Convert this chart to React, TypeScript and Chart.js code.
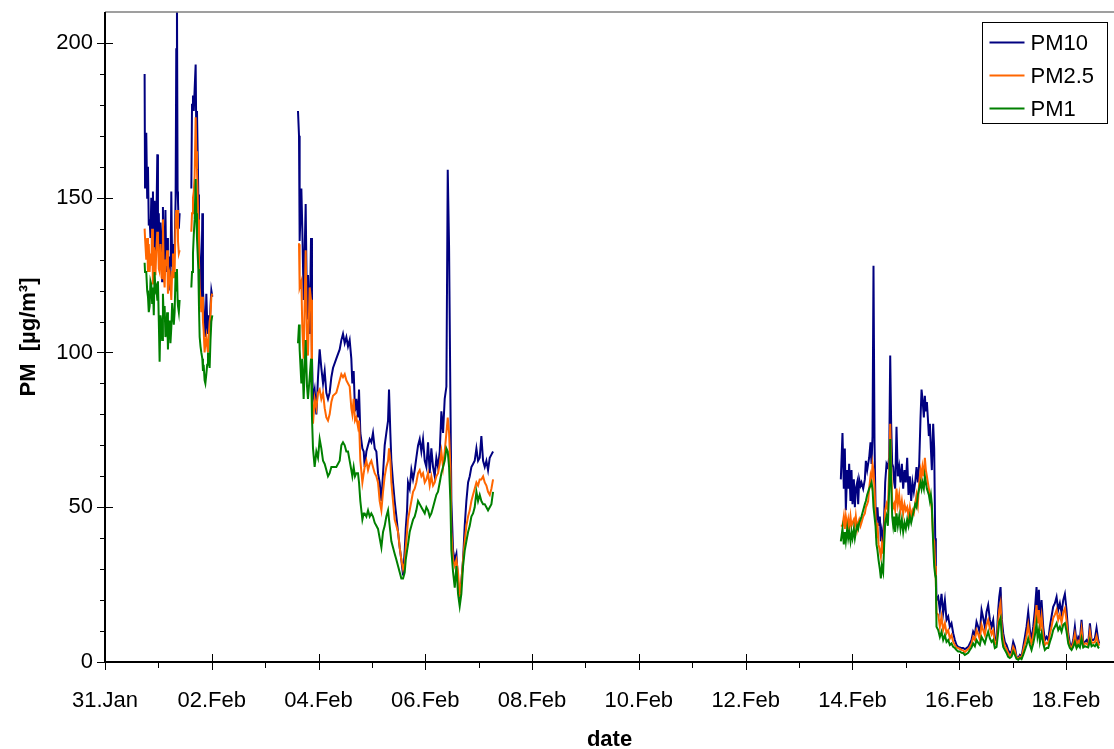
import { useEffect, useRef } from 'react';
import { Chart, registerables } from 'chart.js';

Chart.register(...registerables);

// ---------- axis ticks (days after 31.Jan 00:00) ----------
const xTickDays = [0, 2, 4, 6, 8, 10, 12, 14, 16, 18];
const xTickLabels = ['31.Jan', '02.Feb', '04.Feb', '06.Feb', '08.Feb', '10.Feb', '12.Feb', '14.Feb', '16.Feb', '18.Feb'];
const xMinorDays = [1, 3, 5, 7, 9, 11, 13, 15, 17];
const yTickValues = [0, 50, 100, 150, 200];
const yMinorValues = [10, 20, 30, 40, 60, 70, 80, 90, 110, 120, 130, 140, 160, 170, 180, 190];

const seriesLabels = ['PM10', 'PM2.5', 'PM1'];
const seriesColors = ['#000080', '#FF6600', '#008000'];

// ---------- segment 1a ----------
const seg1aDays = [
  0.742, 0.750, 0.773, 0.790, 0.805, 0.820, 0.836, 0.852, 0.867, 0.883,
  0.898, 0.914, 0.929, 0.945, 0.961, 0.980, 0.992, 1.008, 1.023, 1.039,
  1.054, 1.070, 1.085, 1.101, 1.117, 1.132, 1.148, 1.164, 1.179, 1.195,
  1.210, 1.226, 1.242, 1.258, 1.273, 1.289, 1.304, 1.323, 1.335, 1.348,
  1.360, 1.367, 1.383, 1.398,
];
const seg1aPM10 = [
  190, 153, 171, 150, 160, 141, 143, 137, 150, 131,
  152, 128, 149, 132, 140, 164, 138, 145, 128, 142,
  137, 123, 147, 125, 129, 146, 126, 137, 131, 120,
  131, 123, 152, 128, 131, 135, 133, 150, 198, 215,
  152, 149, 140, 145,
];
const seg1aPM25 = [
  140, 137, 130, 137, 126, 135, 126, 132, 128, 140,
  122, 134, 132, 125, 133, 139, 137, 127, 126, 135,
  130, 124, 143, 125, 121, 130, 128, 133, 119, 125,
  126, 122, 117, 126, 132, 124, 126, 143, 146, 140,
  146, 136, 132, 133,
];
const seg1aPM1 = [
  129, 126, 126, 120, 118, 113, 115, 123, 122, 116,
  121, 112, 126, 120, 121, 117, 123, 110, 97, 112,
  110, 104, 119, 111, 115, 105, 107, 113, 101, 110,
  110, 103, 108, 116, 116, 109, 113, 126, 120, 127,
  117, 115, 113, 117,
];

// ---------- segment 1b ----------
const seg1bDays = [
  1.617, 1.630, 1.648, 1.663, 1.679, 1.698, 1.710, 1.723, 1.748, 1.760,
  1.773, 1.789, 1.804, 1.823, 1.835, 1.848, 1.866, 1.880, 1.898, 1.914,
  1.929, 1.945, 1.960, 1.976, 1.992, 2.010,
];
const seg1bPM10 = [
  153, 180, 183, 178, 185, 193, 170, 178, 151, 140,
  132, 125, 117, 145, 120, 115, 108, 105, 119, 110,
  106, 112, 108, 115, 120, 118,
];
const seg1bPM25 = [
  139, 145, 150, 152, 157, 176, 165, 159, 143, 130,
  121, 117, 113, 118, 110, 107, 100, 103, 105, 102,
  100, 106, 110, 112, 118, 119,
];
const seg1bPM1 = [
  121, 126, 132, 138, 143, 156, 145, 137, 127, 115,
  105, 102, 100, 98, 94, 96, 91, 90, 93, 96,
  100, 97, 95, 104, 110, 112,
];

// ---------- segment 2 ----------
const seg2Days = [
  3.615, 3.634, 3.646, 3.678, 3.696, 3.721, 3.759, 3.784, 3.802, 3.834,
  3.859, 3.877, 3.896, 3.927, 3.959, 3.990, 4.021, 4.052, 4.084, 4.115,
  4.146, 4.177, 4.208, 4.240, 4.271, 4.333, 4.396, 4.427, 4.458, 4.490,
  4.521, 4.552, 4.583, 4.614, 4.633, 4.658, 4.683, 4.708, 4.739, 4.758,
  4.783, 4.821, 4.846, 4.864, 4.896, 4.927, 4.958, 4.989, 5.020, 5.052,
  5.083, 5.114, 5.145, 5.177, 5.208, 5.239, 5.270, 5.302, 5.320, 5.345,
  5.364, 5.395, 5.426, 5.458, 5.489, 5.520, 5.551, 5.583, 5.614, 5.633,
  5.658, 5.676, 5.707, 5.739, 5.770, 5.801, 5.832, 5.864, 5.895, 5.926,
  5.957, 5.989, 6.020, 6.051, 6.082, 6.113, 6.145, 6.176, 6.207, 6.238,
  6.270, 6.301, 6.332, 6.363, 6.395, 6.420, 6.445, 6.470, 6.488, 6.520,
  6.551, 6.582, 6.613, 6.644, 6.675, 6.707, 6.738, 6.769, 6.801, 6.832,
  6.863, 6.894, 6.925, 6.957, 6.988, 7.019, 7.050, 7.082, 7.113, 7.144,
  7.175, 7.207, 7.238, 7.269,
];
const seg2PM10 = [
  178, 170, 136, 153, 140, 117, 148, 111, 125, 106,
  137, 98, 85, 88, 80, 92, 101, 95, 90, 94,
  87, 85, 87, 92, 95, 98, 101, 104, 106, 103,
  105, 102, 104, 98, 90, 94, 81, 85, 79, 88,
  74, 69, 68, 63, 68, 70, 72, 71, 74, 69,
  68, 61, 58, 52, 61, 70, 74, 78, 88, 74,
  65, 58, 52, 47, 42, 37, 33, 28, 36, 43,
  49, 58, 56, 62, 59, 62, 66, 70, 72, 68,
  72, 65, 63, 71, 61, 69, 63, 60, 66, 63,
  68, 81, 74, 85, 89, 159, 134, 85, 52, 36,
  33, 35, 26, 22, 26, 33, 44, 52, 58, 60,
  63, 64, 65, 69, 65, 66, 73, 65, 63, 65,
  62, 66, 67, 68,
];
const seg2PM25 = [
  135, 135, 121, 123, 108, 98, 133, 103, 99, 121,
  117, 85, 77, 85, 82, 87, 88, 85, 87, 82,
  79, 78, 80, 84, 86, 87, 91, 93, 92, 93,
  91, 90, 89, 82, 80, 85, 78, 79, 76, 78,
  65, 58, 61, 63, 65, 62, 64, 65, 63, 61,
  60, 58, 52, 49, 55, 60, 63, 65, 69, 65,
  58, 52, 46, 44, 42, 37, 33, 30, 32, 37,
  42, 46, 49, 52, 55, 56, 58, 61, 62, 60,
  61, 58, 59, 61, 57, 60, 57, 58, 60, 61,
  64, 68, 63, 68, 74, 79, 74, 63, 42, 33,
  31, 33, 29, 21, 26, 33, 39, 44, 47, 49,
  52, 54, 56, 58, 57, 59, 59, 60, 58, 57,
  55, 54, 56, 59,
];
const seg2PM1 = [
  103, 109, 101, 90, 98, 85, 104, 89, 85, 92,
  98, 79, 69, 63, 68, 66, 72, 69, 65, 64,
  62, 60, 61, 63, 63, 63, 65, 70, 71, 70,
  68, 68, 65, 62, 60, 63, 60, 61, 61, 58,
  52, 46, 48, 48, 47, 49, 47, 48, 47, 45,
  44, 43, 40, 37, 42, 44, 47, 49, 46, 42,
  39, 37, 35, 33, 31, 29, 27, 27, 29, 33,
  36, 38, 42, 44, 46, 47, 49, 52, 51, 50,
  49, 48, 50, 49, 47, 48, 50, 52, 54, 55,
  58, 61, 63, 65, 69, 68, 63, 52, 36, 29,
  24, 31, 22, 18, 22, 31, 36, 39, 42, 44,
  47, 48, 50, 55, 52, 54, 52, 51, 51, 50,
  49, 50, 51, 55,
];

// ---------- segment 3a ----------
const seg3aDays = [
  13.783, 13.814, 13.839, 13.858, 13.877, 13.902, 13.921, 13.939, 13.964, 13.983,
  14.002, 14.027, 14.046, 14.064, 14.089, 14.108, 14.127, 14.152, 14.170, 14.202,
  14.233, 14.252, 14.277, 14.295, 14.314, 14.339, 14.358, 14.377, 14.395, 14.414,
  14.433, 14.451, 14.470, 14.489, 14.514, 14.533, 14.551, 14.576, 14.595, 14.614,
  14.639, 14.664, 14.689, 14.708, 14.726, 14.745, 14.764, 14.783, 14.801, 14.826,
  14.851, 14.876, 14.901, 14.926, 14.951, 14.976, 15.001, 15.026, 15.051, 15.076,
  15.101, 15.126, 15.151, 15.176, 15.201, 15.226, 15.251, 15.276, 15.295, 15.313,
  15.338, 15.357, 15.376, 15.395, 15.413, 15.432, 15.451, 15.470, 15.488, 15.513,
  15.532, 15.551, 15.563,
];
const seg3aPM10 = [
  59, 74, 56, 69, 49, 62, 56, 64, 52, 62,
  51, 59, 50, 56, 58, 51, 59, 57, 58, 56,
  59, 65, 62, 64, 66, 71, 64, 73, 128, 71,
  50, 47, 50, 44, 47, 39, 42, 38, 47, 58,
  64, 63, 66, 99, 77, 64, 63, 58, 56, 76,
  60, 63, 58, 64, 56, 62, 58, 66, 54, 60,
  52, 58, 55, 58, 63, 58, 64, 79, 88, 85,
  79, 86, 81, 84, 79, 73, 77, 69, 62, 77,
  69, 40, 31,
];
const seg3aPM25 = [
  44, 44, 47, 43, 47, 44, 46, 43, 47, 44,
  45, 46, 44, 47, 43, 45, 46, 44, 45, 47,
  48, 50, 51, 52, 56, 60, 58, 64, 62, 56,
  47, 40, 45, 38, 36, 34, 38, 35, 42, 49,
  51, 49, 62, 77, 63, 52, 50, 51, 49, 56,
  51, 54, 49, 52, 48, 51, 49, 50, 47, 50,
  47, 49, 48, 51, 54, 51, 58, 62, 60, 63,
  60, 66, 62, 60, 58, 56, 54, 52, 49, 40,
  39, 31, 26,
];
const seg3aPM1 = [
  39, 43, 38, 42, 39, 43, 40, 42, 39, 42,
  40, 43, 40, 42, 44, 43, 45, 46, 47, 49,
  51, 52, 54, 55, 56, 57, 58, 56, 50, 47,
  44, 38, 36, 33, 30, 27, 31, 29, 38, 45,
  47, 44, 56, 72, 58, 47, 44, 47, 42, 48,
  44, 47, 43, 46, 42, 45, 43, 46, 44, 47,
  45, 47, 49, 51, 50, 54, 56, 58, 56, 58,
  56, 60, 58, 56, 55, 54, 52, 54, 51, 38,
  31, 28, 27,
];

// ---------- segment 3b ----------
const seg3bDays = [
  15.575, 15.607, 15.638, 15.669, 15.700, 15.732, 15.763, 15.794, 15.825, 15.856,
  15.888, 15.919, 15.950, 15.981, 16.013, 16.044, 16.075, 16.106, 16.137, 16.169,
  16.200, 16.231, 16.262, 16.294, 16.325, 16.356, 16.387, 16.419, 16.450, 16.481,
  16.512, 16.543, 16.575, 16.606, 16.637, 16.668, 16.700, 16.731, 16.750, 16.775,
  16.800, 16.825, 16.856, 16.887, 16.918, 16.949, 16.981, 17.012, 17.043, 17.074,
  17.106, 17.137, 17.168, 17.199, 17.231, 17.262, 17.293, 17.324, 17.355, 17.387,
  17.418, 17.449, 17.468, 17.493, 17.512, 17.543, 17.574, 17.605, 17.637, 17.668,
  17.699, 17.730, 17.761, 17.793, 17.824, 17.855, 17.886, 17.918, 17.949, 17.980,
  18.011, 18.043, 18.074, 18.105, 18.136, 18.167, 18.199, 18.230, 18.261, 18.292,
  18.324, 18.355, 18.386, 18.417, 18.449, 18.480, 18.511, 18.542, 18.573, 18.605,
  18.623,
];
const seg3bPM10 = [
  20, 21, 16.8, 22, 15.8, 20, 13.6, 14.7, 11.4, 12.5,
  9.3, 7.1, 5.5, 4.9, 4.7, 4.5, 4.5, 4.2, 4.5, 4.9,
  6.0, 7.1, 9.8, 8.7, 13, 11.4, 9.3, 16.8, 14.2, 11.4,
  16.2, 18.4, 13.6, 11.4, 13.6, 7.1, 7.1, 16.8, 21, 24.2,
  13.6, 9.3, 6.5, 5.5, 3.9, 2.9, 3.4, 6.5, 4.9, 1.7,
  1.3, 2.3, 1.7, 4.9, 8.1, 11.4, 16.2, 10.3, 7.1, 11.4,
  16.8, 24.2, 16.8, 23.3, 13.6, 20, 11.4, 7.1, 8.1, 7.1,
  11.4, 14.7, 17.8, 19, 21, 16.8, 19, 15.8, 20, 22,
  16.8, 9.3, 6.0, 4.9, 7.1, 11.4, 6, 8.1, 7.1, 13.6,
  6, 6.5, 7.1, 6, 12.5, 7.1, 7.1, 7.6, 11, 7.1,
  6,
];
const seg3bPM25 = [
  15.8, 15.3, 11.4, 14.7, 10.3, 12.5, 9.3, 10.3, 7.6, 8.7,
  6.5, 5.5, 4.7, 4.5, 4.2, 3.9, 3.7, 3.2, 3.7, 4.2,
  4.9, 5.8, 8.1, 7.1, 10.3, 9.0, 7.3, 12, 10.3, 8.7,
  12, 13.6, 10.8, 9, 10.3, 5.8, 6, 13, 16.8, 19,
  10.3, 7.1, 5.1, 4.2, 2.9, 2, 2.5, 4.9, 3.7, 1.4,
  1.0, 1.7, 1.3, 3.7, 6, 8.4, 12, 7.9, 5.5, 8.7,
  12.7, 18.4, 12.5, 16.8, 10, 14.7, 8.7, 5.5, 6.2, 5.8,
  9, 11.4, 14.2, 15.3, 16.8, 13.6, 15.3, 12.7, 16, 17.3,
  13.3, 7.6, 5.1, 4.5, 6, 9, 5.1, 6.8, 6, 10.5,
  5.3, 6, 6, 5.3, 9.8, 6.2, 6.2, 6.4, 8.4, 6,
  5.3,
];
const seg3bPM1 = [
  11.4, 10.3, 8.1, 9.8, 7.1, 8.7, 6.5, 7.1, 5.5, 6,
  4.9, 4.5, 3.9, 3.4, 3.4, 3.0, 2.9, 2.3, 2.6, 3.0,
  3.9, 4.7, 6, 5.1, 7.1, 6.2, 5.5, 8.1, 7.1, 6,
  8.1, 9.8, 7.6, 6.5, 7.1, 4.5, 4.9, 9.8, 13, 14.2,
  7.6, 4.9, 3.9, 2.9, 1.7, 1.3, 1.7, 3.4, 2.3, 1.0,
  0.7, 1.3, 0.9, 2.3, 3.9, 5.5, 7.6, 5.5, 3.9, 6,
  8.7, 12.5, 8.1, 10.3, 6.5, 9.3, 6, 3.9, 4.5, 4.5,
  6.5, 8.1, 10.3, 11.4, 12.5, 10.3, 11.4, 9.8, 12, 12.5,
  9.8, 6, 4.5, 3.9, 4.9, 6.5, 4.5, 5.5, 4.7, 7.6,
  4.7, 5.1, 4.9, 4.7, 7.1, 5.1, 5.5, 5.1, 6, 4.7,
  4.5,
];

type Pt = { x: number; y: number | null };

function toPoints(days: number[], vals: number[]): Pt[] {
  return days.map((d, i) => ({ x: d, y: vals[i] }));
}

function joinSegments(parts: Array<[number[], number[]]>, breaks: boolean[]): Pt[] {
  const out: Pt[] = [];
  parts.forEach(([days, vals], i) => {
    if (i > 0 && breaks[i - 1]) {
      const prev = parts[i - 1][0];
      out.push({ x: (prev[prev.length - 1] + days[0]) / 2, y: null });
    }
    out.push(...toPoints(days, vals));
  });
  return out;
}

const segBreaks = [true, true, true, false];

const axesPlugin = {
  id: 'excelAxes',
  afterDraw(chart: any) {
    const { ctx, chartArea } = chart;
    const { left, right, top, bottom } = chartArea;
    const xs = chart.scales.x;
    const ys = chart.scales.y;
    ctx.save();
    // top border of plot area
    ctx.strokeStyle = '#7f7f7f';
    ctx.lineWidth = 1.5;
    ctx.beginPath();
    ctx.moveTo(left, top);
    ctx.lineTo(right, top);
    ctx.stroke();
    // axis lines
    ctx.strokeStyle = '#000';
    ctx.lineWidth = 2;
    ctx.beginPath();
    ctx.moveTo(left, top);
    ctx.lineTo(left, bottom + 1);
    ctx.moveTo(left - 1, bottom);
    ctx.lineTo(right, bottom);
    ctx.stroke();
    // tick marks
    ctx.lineWidth = 1;
    ctx.beginPath();
    xTickDays.forEach((d) => {
      const px = Math.round(xs.getPixelForValue(d)) + 0.5;
      ctx.moveTo(px, bottom - 8);
      ctx.lineTo(px, bottom + 8);
    });
    xMinorDays.forEach((d) => {
      const px = Math.round(xs.getPixelForValue(d)) + 0.5;
      ctx.moveTo(px, bottom);
      ctx.lineTo(px, bottom + 6);
    });
    yTickValues.forEach((v) => {
      const py = Math.round(ys.getPixelForValue(v)) + 0.5;
      ctx.moveTo(left - 8, py);
      ctx.lineTo(left + 8, py);
    });
    yMinorValues.forEach((v) => {
      const py = Math.round(ys.getPixelForValue(v)) + 0.5;
      ctx.moveTo(left - 5, py);
      ctx.lineTo(left, py);
    });
    ctx.stroke();
    ctx.restore();
  },
};

const boxLegendPlugin = {
  id: 'boxLegend',
  afterDraw(chart: any) {
    const { ctx, chartArea } = chart;
    const boxW = 125;
    const boxH = 101;
    const bx = Math.round(chartArea.right - 132) + 0.5;
    const by = Math.round(chartArea.top + 10) + 0.5;
    ctx.save();
    ctx.fillStyle = '#fff';
    ctx.fillRect(bx, by, boxW, boxH);
    ctx.strokeStyle = '#000';
    ctx.lineWidth = 1;
    ctx.strokeRect(bx, by, boxW, boxH);
    ctx.font = '22px "Liberation Sans", Arial, sans-serif';
    ctx.textBaseline = 'middle';
    ctx.textAlign = 'left';
    chart.data.datasets.forEach((ds: any, i: number) => {
      const cy = by + 20 + i * 33;
      ctx.strokeStyle = ds.borderColor;
      ctx.lineWidth = 2;
      ctx.beginPath();
      ctx.moveTo(bx + 7, cy);
      ctx.lineTo(bx + 42, cy);
      ctx.stroke();
      ctx.fillStyle = '#000';
      ctx.fillText(ds.label, bx + 48, cy + 1);
    });
    ctx.restore();
  },
};

function noScalePadding(s: any) {
  s.paddingTop = 0;
  s.paddingBottom = 0;
  s.paddingLeft = 0;
  s.paddingRight = 0;
}

export default function App() {
  const canvasRef = useRef<HTMLCanvasElement>(null);

  useEffect(() => {
    document.body.style.margin = '0';
    const canvas = canvasRef.current;
    if (!canvas) return;
    Chart.defaults.font.family = '"Liberation Sans", Arial, sans-serif';
    Chart.defaults.color = '#000';

    const pm10 = joinSegments(
      [[seg1aDays, seg1aPM10], [seg1bDays, seg1bPM10], [seg2Days, seg2PM10], [seg3aDays, seg3aPM10], [seg3bDays, seg3bPM10]],
      segBreaks,
    );
    const pm25 = joinSegments(
      [[seg1aDays, seg1aPM25], [seg1bDays, seg1bPM25], [seg2Days, seg2PM25], [seg3aDays, seg3aPM25], [seg3bDays, seg3bPM25]],
      segBreaks,
    );
    const pm1 = joinSegments(
      [[seg1aDays, seg1aPM1], [seg1bDays, seg1bPM1], [seg2Days, seg2PM1], [seg3aDays, seg3aPM1], [seg3bDays, seg3bPM1]],
      segBreaks,
    );

    const chart = new Chart(canvas, {
      type: 'line',
      data: {
        datasets: [
          { label: seriesLabels[0], data: pm10 as any, borderColor: seriesColors[0], borderWidth: 2, pointRadius: 0, tension: 0, spanGaps: false, order: 2 },
          { label: seriesLabels[1], data: pm25 as any, borderColor: seriesColors[1], borderWidth: 2, pointRadius: 0, tension: 0, spanGaps: false, order: 1 },
          { label: seriesLabels[2], data: pm1 as any, borderColor: seriesColors[2], borderWidth: 2, pointRadius: 0, tension: 0, spanGaps: false, order: 0 },
        ],
      },
      options: {
        responsive: false,
        animation: false,
        layout: { padding: { top: 12, right: 0, left: 0, bottom: 0 } },
        plugins: { legend: { display: false }, tooltip: { enabled: false } },
        scales: {
          x: {
            type: 'linear',
            min: 0,
            max: 18.9,
            grid: { display: false, drawTicks: false },
            border: { display: false },
            afterBuildTicks: (s: any) => {
              s.ticks = xTickDays.map((v) => ({ value: v }));
            },
            afterFit: (s: any) => {
              s.height = 87;
              noScalePadding(s);
            },
            ticks: {
              autoSkip: false,
              maxRotation: 0,
              minRotation: 0,
              padding: 26,
              font: { size: 22 },
              color: '#000',
              callback: (v: any) => {
                const i = xTickDays.indexOf(Number(v));
                return i >= 0 ? xTickLabels[i] : '';
              },
            },
            title: {
              display: true,
              text: 'date',
              font: { size: 22, weight: 'bold', lineHeight: 1 },
              color: '#000',
              padding: { top: 0, bottom: -2 },
            },
          },
          y: {
            type: 'linear',
            min: 0,
            max: 210,
            grid: { display: false, drawTicks: false },
            border: { display: false },
            afterBuildTicks: (s: any) => {
              s.ticks = yTickValues.map((v) => ({ value: v }));
            },
            afterFit: (s: any) => {
              s.width = 105;
              noScalePadding(s);
            },
            ticks: {
              padding: 12,
              font: { size: 22 },
              color: '#000',
              callback: (v: any) => String(v),
            },
            title: {
              display: true,
              text: 'PM  [µg/m³]',
              font: { size: 22, weight: 'bold', lineHeight: 1 },
              color: '#000',
              padding: { top: 18, bottom: 0 },
            },
          },
        },
      },
      plugins: [axesPlugin, boxLegendPlugin],
    });

    return () => chart.destroy();
  }, []);

  return (
    <div style={{ width: 1114, height: 749 }}>
      <canvas ref={canvasRef} width={1114} height={749} style={{ display: 'block' }} />
    </div>
  );
}
